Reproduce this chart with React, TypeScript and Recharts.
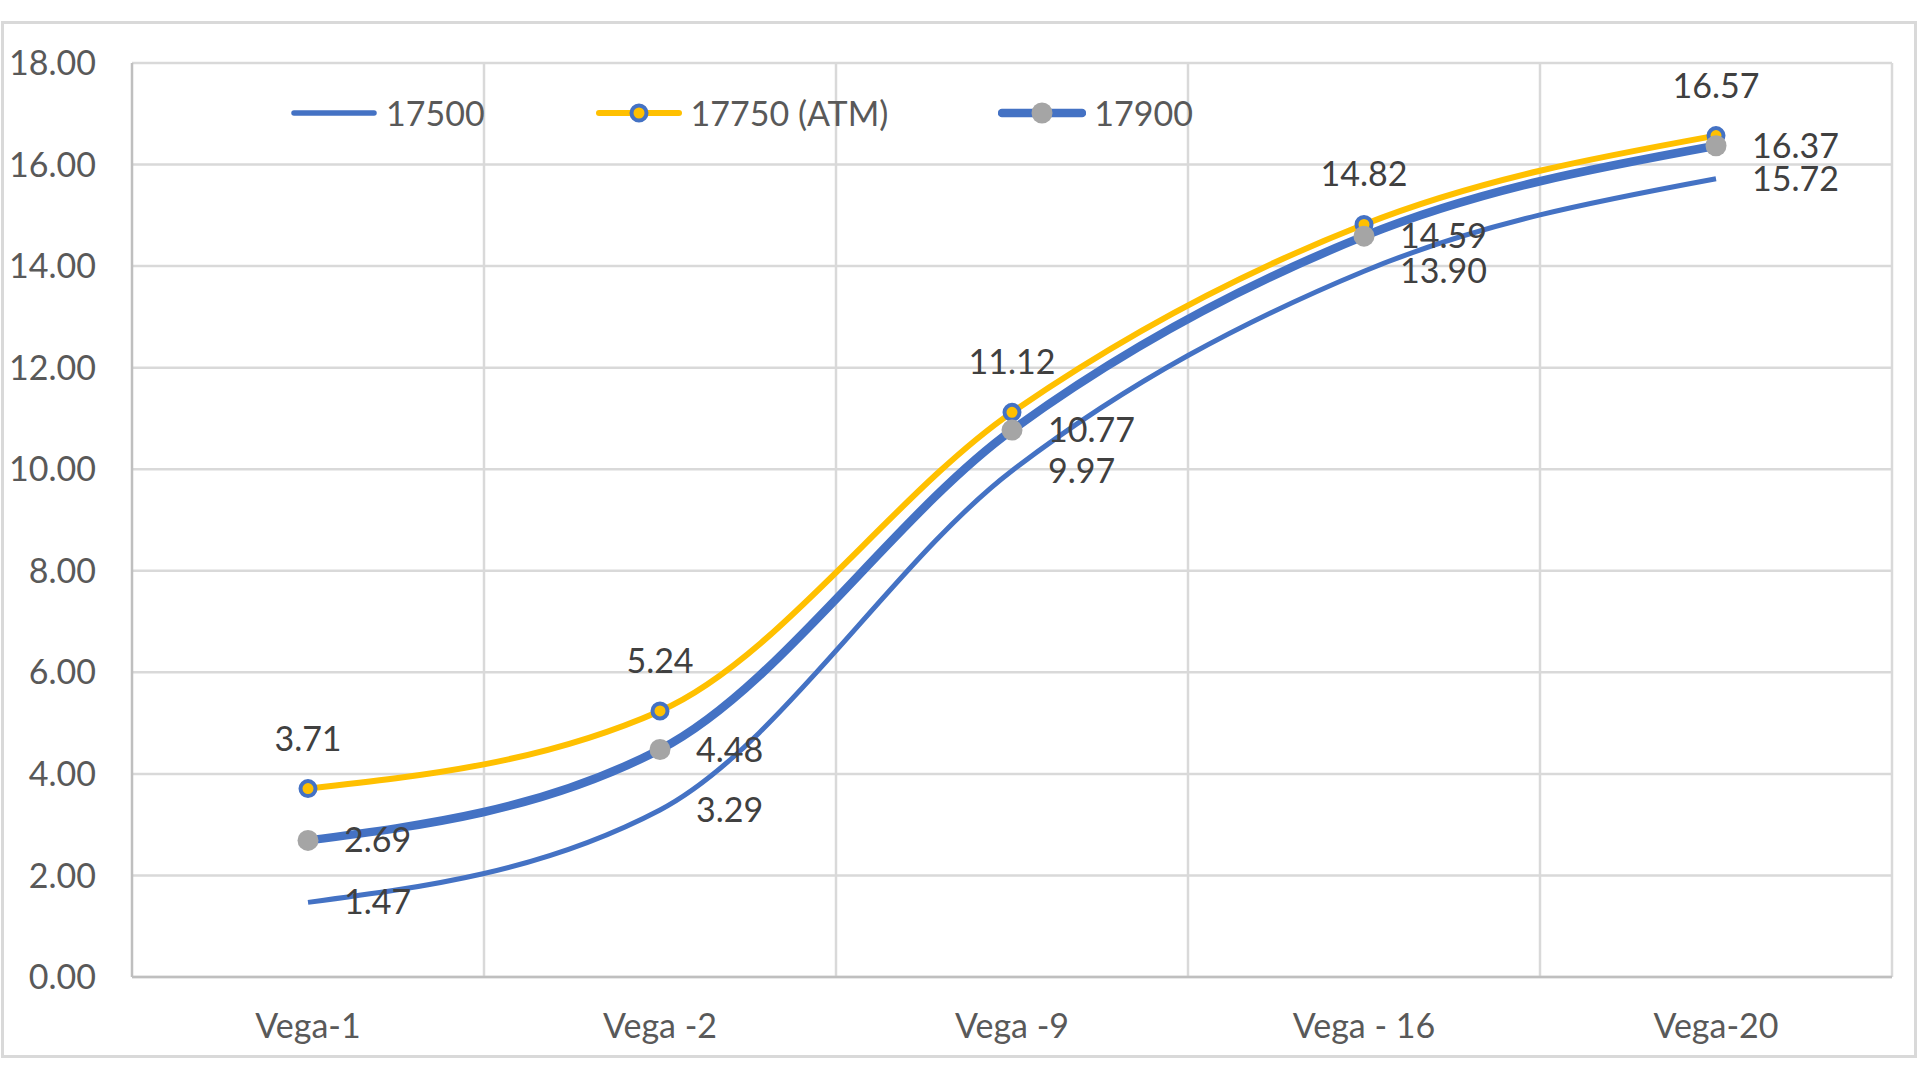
import React from 'react';
import { LineChart, Line, XAxis, YAxis, CartesianGrid, Legend, LabelList } from 'recharts';

const categories = ['Vega-1', 'Vega -2', 'Vega -9', 'Vega - 16', 'Vega-20'];
const s17500 = [1.47, 3.29, 9.97, 13.9, 15.72];
const s17750 = [3.71, 5.24, 11.12, 14.82, 16.57];
const s17900 = [2.69, 4.48, 10.77, 14.59, 16.37];
const yTicks = [0, 2, 4, 6, 8, 10, 12, 14, 16, 18];

const data = categories.map((name, i) => ({
  name,
  s17500: s17500[i],
  s17750: s17750[i],
  s17900: s17900[i],
}));

const BLUE = '#4472C4';
const GOLD = '#FFC000';
const GREY = '#A5A5A5';
const FONT = 'Lato, "Open Sans", sans-serif';

// legend icon styles keyed by dataKey
const legendStyle: Record<string, { color: string; width: number; dot?: { r: number; fill: string; stroke: string; sw: number } }> = {
  s17500: { color: BLUE, width: 5.5 },
  s17750: { color: GOLD, width: 6 },
  s17900: { color: BLUE, width: 8.5 },
};
legendStyle.s17750.dot = { r: 7.5, fill: GOLD, stroke: BLUE, sw: 4 };
legendStyle.s17900.dot = { r: 10.5, fill: GREY, stroke: GREY, sw: 0 };

const LegendContent = (props: any) => {
  const { payload = [] } = props;
  return (
    <div style={{ display: 'flex', alignItems: 'center', fontFamily: FONT }}>
      {payload.map((entry: any) => {
        const st = legendStyle[entry.dataKey] || { color: entry.color, width: 4 };
        return (
          <div key={entry.value} style={{ display: 'flex', alignItems: 'center', marginRight: 110 }}>
            <svg width={88} height={26}>
              <line x1={4} y1={13} x2={84} y2={13} stroke={st.color} strokeWidth={st.width} strokeLinecap="round" />
              {st.dot && (
                <circle cx={44} cy={13} r={st.dot.r} fill={st.dot.fill} stroke={st.dot.stroke} strokeWidth={st.dot.sw} />
              )}
            </svg>
            <span style={{ marginLeft: 8, fontSize: 34, color: '#595959', lineHeight: '40px', whiteSpace: 'nowrap' }}>
              {entry.value}
            </span>
          </div>
        );
      })}
    </div>
  );
};

const fmt = (v: any) => Number(v).toFixed(2);

const labelStyle = { fontSize: 34, fill: '#404040', fontFamily: FONT };

export default function App() {
  return (
    <div style={{ position: 'absolute', left: 0, top: 0, width: 1920, height: 1080, background: '#fff', fontFamily: FONT }}>
      <div
        style={{
          position: 'absolute',
          left: 1,
          top: 21,
          width: 1910,
          height: 1031,
          border: '3px solid #D9D9D9',
        }}
      />
      <div style={{ position: 'absolute', left: 0, top: 0 }}>
        <LineChart width={1920} height={1080} data={data} margin={{ top: 63, right: 28, left: 0, bottom: 0 }}>
          <CartesianGrid
            stroke="#D9D9D9"
            strokeWidth={2.5}
            verticalCoordinatesGenerator={(args: any) => {
              const off = args && args.offset ? args.offset : { left: 132, width: 1760 };
              return [1, 2, 3, 4, 5].map((i) => off.left + (i * off.width) / 5);
            }}
          />
          <XAxis
            dataKey="name"
            height={103}
            padding={{ left: 176, right: 176 }}
            tickLine={false}
            tickSize={0}
            tickMargin={37}
            axisLine={{ stroke: '#BFBFBF', strokeWidth: 2.5 }}
            tick={{ fontSize: 34, fill: '#595959', fontFamily: FONT }}
            interval={0}
          />
          <YAxis
            width={132}
            domain={[0, 18]}
            ticks={yTicks}
            tickFormatter={fmt}
            tickLine={false}
            tickSize={0}
            tickMargin={36}
            axisLine={{ stroke: '#BFBFBF', strokeWidth: 2.5 }}
            tick={{ fontSize: 34, fill: '#595959', fontFamily: FONT }}
            interval={0}
          />
          <Legend
            layout="horizontal"
            verticalAlign="middle"
            align="center"
            content={<LegendContent />}
            wrapperStyle={{ position: 'absolute', top: 93, left: 290, width: 'auto', height: 40 }}
          />
          <Line
            name="17500"
            dataKey="s17500"
            type="monotone"
            stroke={BLUE}
            strokeWidth={5}
            dot={false}
            activeDot={false}
            isAnimationActive={false}
          >
            <LabelList dataKey="s17500" position="right" offset={36} formatter={fmt} style={labelStyle} />
          </Line>
          <Line
            name="17750 (ATM)"
            dataKey="s17750"
            type="monotone"
            stroke={GOLD}
            strokeWidth={6}
            dot={{ r: 7.5, fill: GOLD, stroke: BLUE, strokeWidth: 4 }}
            activeDot={false}
            isAnimationActive={false}
          >
            <LabelList dataKey="s17750" position="top" offset={38} formatter={fmt} style={labelStyle} />
          </Line>
          <Line
            name="17900"
            dataKey="s17900"
            type="monotone"
            stroke={BLUE}
            strokeWidth={8.5}
            dot={{ r: 10.5, fill: GREY, stroke: GREY, strokeWidth: 0 }}
            activeDot={false}
            isAnimationActive={false}
          >
            <LabelList dataKey="s17900" position="right" offset={36} formatter={fmt} style={labelStyle} />
          </Line>
        </LineChart>
      </div>
    </div>
  );
}
